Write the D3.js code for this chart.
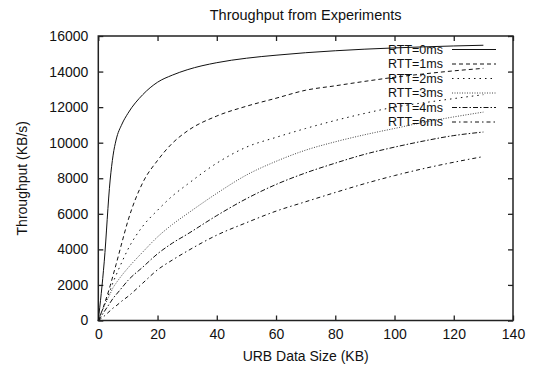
<!DOCTYPE html>
<html>
<head>
<meta charset="utf-8">
<script src="https://cdn.jsdelivr.net/npm/d3@7"></script>
<style>
  body { margin: 0; background: #fff; }
  text { font-family: "Liberation Sans", Arial, Helvetica, sans-serif; }
</style>
</head>
<body>
<div id="chart"></div>
<script>
// Data
const sizes = [0, 2, 4, 5, 6, 8, 10, 15, 20, 25, 30, 40, 50, 60, 70, 80, 90, 100, 110, 120, 130];

const rtt0 = [0, 3300, 7900, 9300, 10150, 11050, 11650, 12700, 13400, 13800, 14100, 14500, 14750, 14920, 15060, 15170, 15260, 15330, 15390, 15440, 15480];
const rtt1 = [0, 900, 1950, 2550, 3150, 4400, 5600, 7750, 9000, 9970, 10650, 11500, 12050, 12500, 12950, 13200, 13450, 13680, 13870, 14040, 14180];
const rtt2 = [0, 850, 1700, 2150, 2550, 3300, 4000, 5300, 6200, 7000, 7650, 8850, 9750, 10300, 10800, 11250, 11650, 12000, 12250, 12480, 12700];
const rtt3 = [0, 800, 1500, 1850, 2100, 2550, 2950, 3850, 4700, 5400, 6000, 7150, 8180, 8950, 9580, 10050, 10450, 10800, 11150, 11450, 11720];
const rtt4 = [0, 500, 1000, 1250, 1450, 1850, 2250, 3000, 3750, 4350, 4850, 5900, 6850, 7650, 8300, 8850, 9350, 9750, 10100, 10400, 10600];
const rtt6 = [0, 250, 550, 700, 820, 1100, 1350, 2100, 2850, 3400, 3900, 4800, 5500, 6150, 6680, 7200, 7700, 8150, 8550, 8900, 9220];

const seriesNames = ["RTT=0ms", "RTT=1ms", "RTT=2ms", "RTT=3ms", "RTT=4ms", "RTT=6ms"];
const seriesValues = [rtt0, rtt1, rtt2, rtt3, rtt4, rtt6];
const dashes = [null, "4,3", "1.5,4", "1,1.5", "5,2,1.5,2", "4,3,1.5,3"];

const xTicks = [0, 20, 40, 60, 80, 100, 120, 140];
const yTicks = [0, 2000, 4000, 6000, 8000, 10000, 12000, 14000, 16000];

const W = 535, H = 370;
const margin = {top: 36, right: 22, bottom: 49.5, left: 98.3};
const width = W - margin.left - margin.right;
const height = H - margin.top - margin.bottom;

const svg = d3.select("#chart").append("svg")
  .attr("width", W)
  .attr("height", H);

const g = svg.append("g").attr("transform", `translate(${margin.left},${margin.top})`);

const x = d3.scaleLinear().domain([0, 140]).range([0, width]);
const y = d3.scaleLinear().domain([0, 16000]).range([height, 0]);

// axes with inward ticks, mirrored on top and right
const axisB = g.append("g")
  .attr("transform", `translate(0,${height})`)
  .call(d3.axisBottom(x).tickValues(xTicks).tickSize(-5).tickPadding(9).tickFormat(d3.format("d")));
const axisL = g.append("g")
  .call(d3.axisLeft(y).tickValues(yTicks).tickSize(-5).tickPadding(10).tickFormat(d3.format("d")));
const axisT = g.append("g")
  .call(d3.axisTop(x).tickValues(xTicks).tickSize(-5).tickFormat(""));
const axisR = g.append("g")
  .attr("transform", `translate(${width},0)`)
  .call(d3.axisRight(y).tickValues(yTicks).tickSize(-5).tickFormat(""));

[axisB, axisL, axisT, axisR].forEach(a => {
  a.select(".domain").remove();
  a.selectAll("line").attr("stroke", "#222").attr("stroke-width", 1.3);
  a.selectAll("text").style("font-size", "14px").attr("fill", "#111");
});

g.append("rect")
  .attr("width", width)
  .attr("height", height)
  .attr("fill", "none")
  .attr("stroke", "#222")
  .attr("stroke-width", 1.5);

const line = d3.line()
  .x((d, i) => x(sizes[i]))
  .y(d => y(d))
  .curve(d3.curveMonotoneX);

seriesValues.forEach((vals, k) => {
  g.append("path")
    .datum(vals)
    .attr("fill", "none")
    .attr("stroke", k === 3 ? "#444" : "#111")
    .attr("stroke-width", 1)
    .attr("stroke-dasharray", dashes[k])
    .attr("d", line);
});

// legend
const legend = svg.append("g");
seriesNames.forEach((name, k) => {
  const ly = 49.5 + k * 14.5;
  legend.append("text")
    .attr("x", 443)
    .attr("y", ly)
    .attr("dy", "0.35em")
    .attr("text-anchor", "end")
    .style("font-size", "12.5px")
    .attr("fill", "#111")
    .text(name);
  legend.append("line")
    .attr("x1", 452).attr("x2", 496)
    .attr("y1", ly).attr("y2", ly)
    .attr("stroke", k === 3 ? "#444" : "#111")
    .attr("stroke-width", 1)
    .attr("stroke-dasharray", dashes[k]);
});

// title
svg.append("text")
  .attr("x", margin.left + width / 2)
  .attr("y", 20)
  .attr("text-anchor", "middle")
  .style("font-size", "14.5px")
  .attr("fill", "#111")
  .text("Throughput from Experiments");

// Label X
svg.append("text")
  .attr("x", margin.left + width / 2)
  .attr("y", 361)
  .attr("text-anchor", "middle")
  .style("font-size", "14px")
  .attr("fill", "#111")
  .text("URB Data Size (KB)");

// Label Y
svg.append("text")
  .attr("transform", "rotate(-90)")
  .attr("x", -(margin.top + height / 2))
  .attr("y", 27)
  .attr("text-anchor", "middle")
  .style("font-size", "14px")
  .attr("fill", "#111")
  .text("Throughput (KB/s)");
</script>
</body>
</html>
